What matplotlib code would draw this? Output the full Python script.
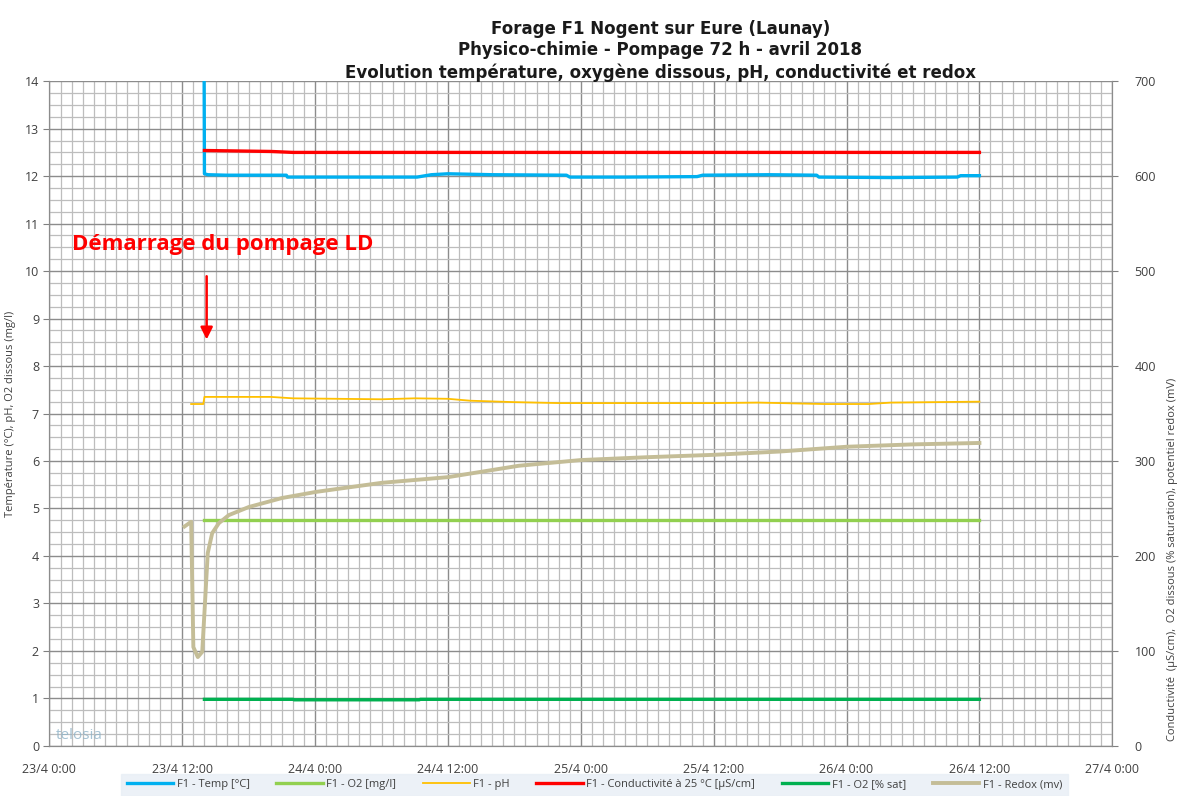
import matplotlib.pyplot as plt
import numpy as np

# heures depuis le 23/4 0:00
tick_h = [0, 12, 24, 36, 48, 60, 72, 84, 96]
tick_labels = ["23/4 0:00", "23/4 12:00", "24/4 0:00", "24/4 12:00", "25/4 0:00",
               "25/4 12:00", "26/4 0:00", "26/4 12:00", "27/4 0:00"]

temp_h = [13.95, 14.0, 14.3, 16, 21.4, 21.5, 33.2, 34.5, 36, 40, 46.7, 47, 52, 58.5, 59, 65, 69.3, 69.5, 76, 82, 82.3, 84]
temp_v = [16, 12.05, 12.03, 12.02, 12.02, 11.98, 11.98, 12.03, 12.05, 12.03, 12.02, 11.98, 11.98, 11.99, 12.02, 12.03, 12.02, 11.98, 11.97, 11.98, 12.01, 12.01]

o2mg_h = [14.0, 84.0]
o2mg_v = [4.75, 4.75]

ph_h = [12.8, 13.9, 14.0, 20, 22, 30, 33, 36, 38, 42, 46, 60, 64, 70, 74, 76, 84]
ph_v = [7.2, 7.2, 7.35, 7.35, 7.32, 7.3, 7.32, 7.31, 7.27, 7.24, 7.22, 7.22, 7.23, 7.2, 7.2, 7.23, 7.25]

cond_h = [14.0, 20, 22, 84]
cond_v = [627, 626, 625, 625]

o2sat_h = [14.0, 22.0, 22.1, 33.4, 33.5, 84.0]
o2sat_v = [49, 49, 48.5, 48.5, 49, 49]

redox_h = [12.2, 12.8, 13.0, 13.4, 13.8, 14.0, 14.3, 14.7, 15.3, 16.2, 18, 21, 24.1, 30, 36,
           42.4, 48, 54, 60, 66, 72, 78, 84]
redox_v = [231, 236, 104, 93.5, 99, 140, 203, 224, 234.5, 243, 251.5, 261, 267.5, 277, 283,
           295, 301, 304, 306.5, 310, 315, 317.5, 319]

series_names = ["F1 - Temp [°C]", "F1 - O2 [mg/l]", "F1 - pH",
                "F1 - Conductivité à 25 °C [µS/cm]", "F1 - O2 [% sat]", "F1 - Redox (mv)"]

plt.rcParams['font.family'] = ['Open Sans', 'DejaVu Sans']

fig = plt.figure(figsize=(11.77, 7.96), dpi=100)
ax = fig.add_axes([0.042, 0.063, 0.903, 0.835])
ax2 = ax.twinx()

l1, = ax.plot(temp_h, temp_v, color="#00B0F0", lw=2.4, label=series_names[0])
l2, = ax.plot(o2mg_h, o2mg_v, color="#92D050", lw=2.4, label=series_names[1])
l3, = ax.plot(ph_h, ph_v, color="#FFC000", lw=1.3, label=series_names[2])
l4, = ax2.plot(cond_h, cond_v, color="#FF0000", lw=2.4, label=series_names[3])
l5, = ax2.plot(o2sat_h, o2sat_v, color="#00B050", lw=2.4, label=series_names[4])
l6, = ax2.plot(redox_h, redox_v, color="#C4BD97", lw=2.8, label=series_names[5])

ax.set_xlim(0, 96)
ax.set_ylim(0, 14)
ax2.set_ylim(0, 700)
ax.set_xticks(tick_h)
ax.set_xticklabels(tick_labels, fontsize=9, color="#404040")
ax.set_xticks(np.arange(0, 97, 1), minor=True)
ax.set_yticks(np.arange(0, 15, 1))
ax.set_yticks(np.arange(0, 14.01, 0.25), minor=True)
ax2.set_yticks(np.arange(0, 701, 100))
ax.tick_params(axis='y', labelsize=9, labelcolor="#404040", length=4, color="#808080")
ax.tick_params(axis='x', pad=12, length=0)
ax.tick_params(which='minor', length=0)
ax2.tick_params(axis='y', labelsize=9, labelcolor="#404040", length=4, color="#808080", pad=12)

ax.grid(which='major', color="#8C8C8C", lw=1.0)
ax.grid(which='minor', color="#BDBDBD", lw=0.9)
ax.set_axisbelow(True)
for a in (ax, ax2):
    for s in a.spines.values():
        s.set_color("#8C8C8C")
    a.spines['top'].set_visible(False)

ax.set_ylabel("Température (°C), pH, O2 dissous (mg/l)", fontsize=8, color="#404040", labelpad=6)
ax2.set_ylabel("Conductivité  (µS/cm),  O2 dissous (% saturation), potentiel redox (mV)",
               fontsize=8, color="#404040", labelpad=8, y=0.28)

fig.text(0.561, 0.975, "Forage F1 Nogent sur Eure (Launay)\nPhysico-chimie - Pompage 72 h - avril 2018\n"
         "Evolution température, oxygène dissous, pH, conductivité et redox",
         ha='center', va='top', fontsize=12, fontweight='bold', family='DejaVu Sans',
         linespacing=1.25, color="#1a1a1a")

ax.text(2.0, 10.55, "Démarrage du pompage LD", color="#FF0000", fontsize=16,
        fontweight='bold', va='center', ha='left')
ax.annotate("", xy=(14.2, 8.5), xytext=(14.2, 9.95),
            arrowprops=dict(arrowstyle='-|>', color="#FF0000", lw=1.8, mutation_scale=18))

ax.text(0.6, 0.15, "telosia", color="#8FB3C8", fontsize=11, alpha=0.8)

leg = fig.legend([l1, l2, l3, l4, l5, l6], series_names, loc='lower center',
                 bbox_to_anchor=(0.505, -0.004), ncol=6, fontsize=8, frameon=True,
                 handlelength=4.2, columnspacing=2.4, handletextpad=0.3, borderpad=0.3)
leg.get_frame().set_facecolor("#E8EEF5")
leg.get_frame().set_edgecolor("#E8EEF5")
leg.get_frame().set_boxstyle("square", pad=0.2)
for t in leg.get_texts():
    t.set_color("#404040")

fig.savefig("out.png", dpi=100)
